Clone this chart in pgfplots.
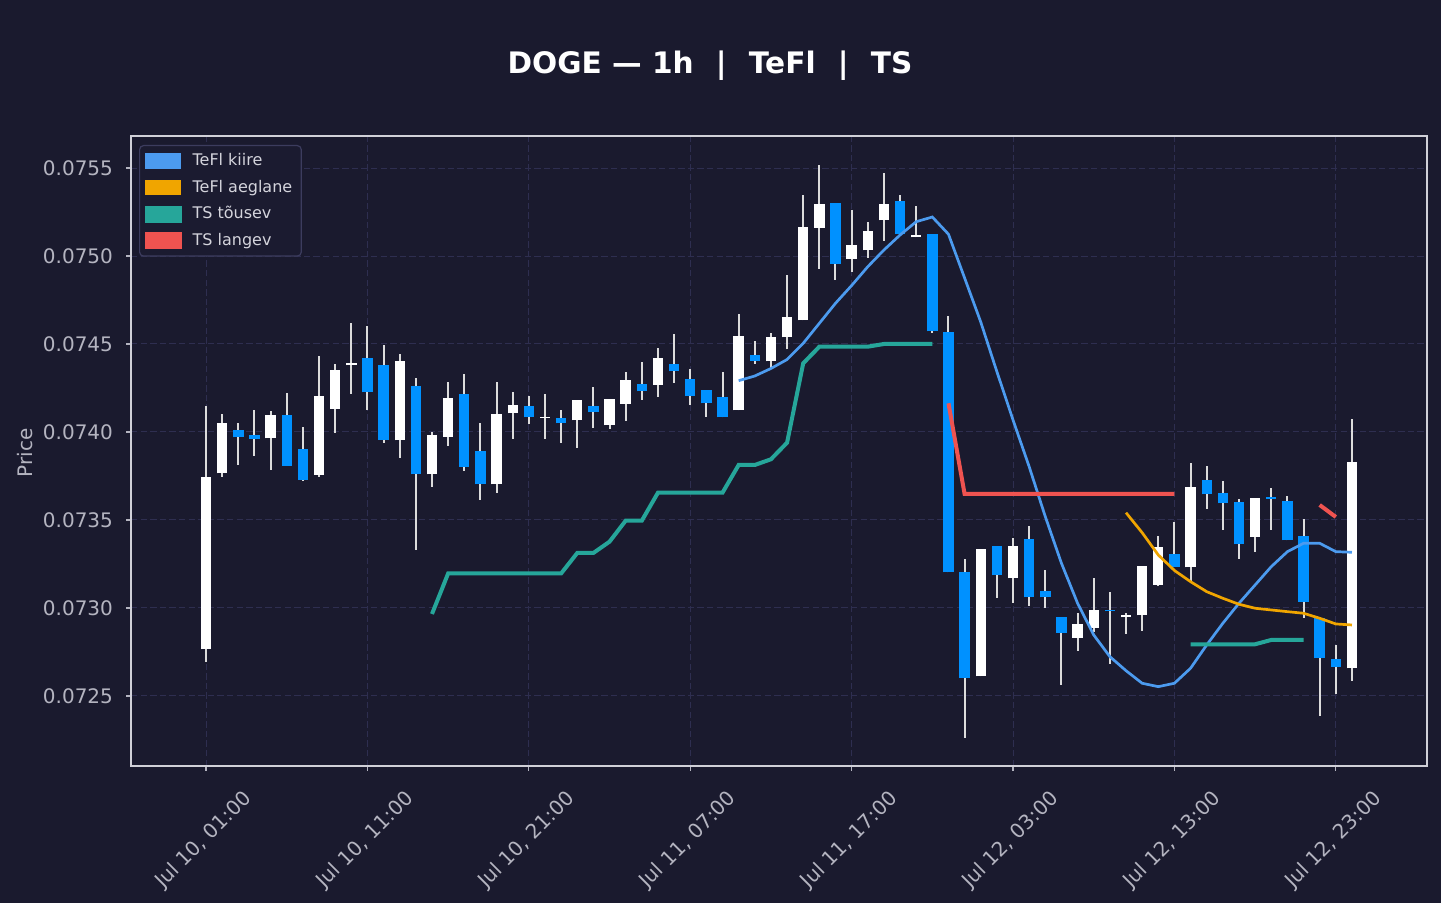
\documentclass[border=0pt]{standalone}
\usepackage{fontspec}
\setmainfont{DejaVu Sans}
\usepackage{pgfplots}
\pgfplotsset{compat=1.18}
\usepackage{pgfplotstable}

\definecolor{bg}{HTML}{1A1A2E}
\definecolor{gridc}{HTML}{2E2E50}
\definecolor{framec}{HTML}{D0D0D8}
\definecolor{tickc}{HTML}{B4B4C0}
\definecolor{upc}{HTML}{FFFFFF}
\definecolor{downc}{HTML}{0091FF}
\definecolor{wickc}{HTML}{DCDCDC}
\definecolor{fastc}{HTML}{4C9BEF}
\definecolor{slowc}{HTML}{F0A500}
\definecolor{tsup}{HTML}{26A69A}
\definecolor{tsdn}{HTML}{EF5350}
\definecolor{legbg}{HTML}{1B1B30}
\definecolor{legdraw}{HTML}{3C3C5E}
\definecolor{legtext}{HTML}{D4D4DC}

\pgfplotstableread{
i o h l c
0 0.0727653 0.0741477 0.0726949 0.0737426
1 0.0737653 0.0741023 0.0737460 0.0740494
4 0.0739642 0.0741193 0.0737841 0.0740949
7 0.0737574 0.0744318 0.0737460 0.0742028
8 0.0741324 0.0743864 0.0739961 0.0743506
9 0.0743790 0.0746193 0.0742176 0.0743903
12 0.0739528 0.0744432 0.0738540 0.0744017
14 0.0737597 0.0739983 0.0736892 0.0739813
15 0.0739733 0.0742841 0.0739205 0.0741915
18 0.0737028 0.0742841 0.0736551 0.0741006
19 0.0741063 0.0742273 0.0739619 0.0741517
21 0.0740824 0.0742159 0.0739619 0.0740864
23 0.0740665 0.0741818 0.0739108 0.0741801
25 0.0740381 0.0741875 0.0740188 0.0741858
26 0.0741608 0.0743409 0.0740642 0.0742937
28 0.0742687 0.0744773 0.0741989 0.0744187
33 0.0741233 0.0746705 0.0741228 0.0745438
35 0.0744017 0.0745625 0.0743563 0.0745381
36 0.0745381 0.0748920 0.0744699 0.0746517
37 0.0746347 0.0753466 0.0746340 0.0751631
38 0.0751608 0.0755170 0.0749278 0.0752937
40 0.0749847 0.0752614 0.0749108 0.0750608
41 0.0750324 0.0751932 0.0749903 0.0751403
42 0.0752028 0.0754716 0.0750869 0.0752937
44 0.0751062 0.0752841 0.0751057 0.0751210
48 0.0726119 0.0733340 0.0726110 0.0733335
50 0.0731688 0.0733977 0.0730284 0.0733506
54 0.0728313 0.0729716 0.0727574 0.0729074
55 0.0728846 0.0731705 0.0728653 0.0729869
57 0.0729472 0.0729699 0.0728540 0.0729585
58 0.0729585 0.0732386 0.0728710 0.0732369
59 0.0731324 0.0734091 0.0731250 0.0733449
61 0.0732312 0.0738239 0.0731494 0.0736858
65 0.0734051 0.0736250 0.0733199 0.0736233
71 0.0726574 0.0740739 0.0725869 0.0738279
}\upcandles

\pgfplotstableread{
i o h l c
2 0.0740097 0.0740511 0.0738125 0.0739699
3 0.0739813 0.0741250 0.0738653 0.0739619
5 0.0740949 0.0742216 0.0738080 0.0738085
6 0.0739017 0.0740284 0.0737233 0.0737290
10 0.0744187 0.0746023 0.0741250 0.0742256
11 0.0743808 0.0744943 0.0739392 0.0739563
13 0.0742597 0.0743068 0.0733296 0.0737597
16 0.0742142 0.0743295 0.0737801 0.0738028
17 0.0738903 0.0740511 0.0736153 0.0737028
20 0.0741460 0.0742045 0.0740472 0.0740835
22 0.0740778 0.0741250 0.0739392 0.0740494
24 0.0741460 0.0742540 0.0740244 0.0741119
27 0.0742710 0.0743977 0.0741835 0.0742313
29 0.0743847 0.0745568 0.0742801 0.0743449
30 0.0742994 0.0743563 0.0741551 0.0742028
31 0.0742369 0.0742386 0.0740869 0.0741631
32 0.0741972 0.0743409 0.0740830 0.0740835
34 0.0744358 0.0745170 0.0743881 0.0744051
39 0.0752994 0.0753011 0.0748653 0.0749562
43 0.0753108 0.0753466 0.0751228 0.0751233
45 0.0751233 0.0751240 0.0745642 0.0745721
46 0.0745665 0.0746591 0.0732020 0.0732028
47 0.0732063 0.0732784 0.0722631 0.0726006
49 0.0733506 0.0733523 0.0730585 0.0731858
51 0.0733903 0.0734659 0.0730131 0.0730608
52 0.0730949 0.0732159 0.0730017 0.0730608
53 0.0729472 0.0729489 0.0725642 0.0728597
56 0.0729903 0.0730909 0.0726835 0.0729812
60 0.0733051 0.0734886 0.0732305 0.0732312
62 0.0737256 0.0738068 0.0735642 0.0736460
63 0.0736517 0.0737202 0.0734435 0.0735949
64 0.0736006 0.0736176 0.0732801 0.0733619
66 0.0736290 0.0736818 0.0734435 0.0736210
67 0.0736062 0.0736364 0.0733840 0.0733847
68 0.0734108 0.0735057 0.0729449 0.0730358
69 0.0729449 0.0729455 0.0723875 0.0727142
70 0.0727085 0.0727898 0.0725114 0.0726665
}\downcandles

\begin{document}
\begin{tikzpicture}
\fill[bg] (0pt,0pt) rectangle (720.5pt,451.5pt);
\begin{axis}[
  at={(65.5pt,68.5pt)}, anchor=south west,
  scale only axis, width=648pt, height=315pt,
  xmin=-4.65, xmax=75.65, ymin=0.072102, ymax=0.075682,
  axis background/.style={fill=bg},
  axis line style={draw=framec, line width=0.75pt},
  tick pos=left, tick align=outside, major tick length=2.5pt,
  tick style={draw=tickc, line width=0.6pt},
  grid=major,
  major grid style={draw=gridc, line width=0.5pt, dash pattern=on 3.2pt off 1.6pt},
  xtick={0,10,20,30,40,50,60,70},
  xticklabels={{Jul 10, 01:00},{Jul 10, 11:00},{Jul 10, 21:00},{Jul 11, 07:00},{Jul 11, 17:00},{Jul 12, 03:00},{Jul 12, 13:00},{Jul 12, 23:00}},
  xticklabel style={yshift=-34.5pt, xshift=-1pt, rotate=45, anchor=center, font=\fontsize{10}{12}\selectfont, text=tickc},
  ytick={0.0725,0.0730,0.0735,0.0740,0.0745,0.0750,0.0755},
  scaled y ticks=false,
  yticklabel style={font=\fontsize{10}{12}\selectfont, text=tickc, xshift=-3pt,
    /pgf/number format/.cd, fixed, fixed zerofill, precision=4, assume math mode=true},
  ylabel={Price},
  ylabel style={at={(axis description cs:-0.0818,0.497)}, anchor=center, font=\fontsize{10}{12}\selectfont, text=tickc},
  legend style={at={(0,1)}, anchor=north west, xshift=4pt, yshift=-4.5pt,
    fill=legbg, draw=legdraw, line width=0.6pt, rounded corners=2pt,
    font=\fontsize{8}{9.6}\selectfont, text=legtext,
    inner xsep=2.5pt, inner ysep=2pt, row sep=1.6pt, column sep=3.5pt},
  legend cell align=left,
]
% wicks
\addplot[forget plot, draw=none, no markers,
  error bars/.cd, y dir=plus, y explicit, error mark=none,
  error bar style={line width=1pt, draw=wickc}]
  table[x=i, y=l, y error plus expr=\thisrow{h}-\thisrow{l}] {\upcandles};
\addplot[forget plot, draw=none, no markers,
  error bars/.cd, y dir=plus, y explicit, error mark=none,
  error bar style={line width=1pt, draw=wickc}]
  table[x=i, y=l, y error plus expr=\thisrow{h}-\thisrow{l}] {\downcandles};
% bodies
\addplot[forget plot, draw=none, no markers,
  error bars/.cd, y dir=plus, y explicit, error mark=none,
  error bar style={line width=5.2pt, draw=upc}]
  table[x=i, y=o, y error plus expr=\thisrow{c}-\thisrow{o}] {\upcandles};
\addplot[forget plot, draw=none, no markers,
  error bars/.cd, y dir=plus, y explicit, error mark=none,
  error bar style={line width=5.2pt, draw=downc}]
  table[x=i, y=c, y error plus expr=\thisrow{o}-\thisrow{c}] {\downcandles};

% TeFl kiire
\addplot[fastc, line width=1.35pt, mark=none,
  legend image code/.code={\fill[fastc, sharp corners] (0pt,-3.25pt) rectangle (16.5pt,3.25pt);}]
  coordinates {
  (33,0.0742915) (34,0.0743182) (35,0.0743608) (36,0.0744119) (37,0.0745040)
  (38,0.0746176) (39,0.0747313) (40,0.0748324) (41,0.0749392) (42,0.0750341)
  (43,0.0751193) (44,0.0751949) (45,0.0752216) (46,0.0751239) (47,0.0748750)
  (48,0.0746250) (49,0.0743426) (50,0.0740682) (51,0.0738028) (52,0.0735188)
  (53,0.0732540) (54,0.0730267) (55,0.0728466) (56,0.0727233) (57,0.0726437)
  (58,0.0725721) (59,0.0725528) (60,0.0725721) (61,0.0726574) (62,0.0727898)
  (63,0.0729130) (64,0.0730267) (65,0.0731307) (66,0.0732347) (67,0.0733199)
  (68,0.0733676) (69,0.0733676) (70,0.0733199) (71,0.0733165)
  };
\addlegendentry{TeFl kiire}
% TeFl aeglane
\addplot[slowc, line width=1.35pt, mark=none,
  legend image code/.code={\fill[slowc, sharp corners] (0pt,-3.25pt) rectangle (16.5pt,3.25pt);}]
  coordinates {
  (57,0.0735415) (58,0.0734279) (59,0.0733011) (60,0.0732131) (61,0.0731494)
  (62,0.0730926) (63,0.0730551) (64,0.0730210) (65,0.0729983) (66,0.0729886)
  (67,0.0729790) (68,0.0729699) (69,0.0729415) (70,0.0729091) (71,0.0729034)
  };
\addlegendentry{TeFl aeglane}
% TS tousev
\addplot[tsup, line width=2pt, mark=none, unbounded coords=jump,
  legend image code/.code={\fill[tsup, sharp corners] (0pt,-3.25pt) rectangle (16.5pt,3.25pt);}]
  coordinates {
  (14,0.0729659) (15,0.0731960) (16,0.0731960) (17,0.0731960) (18,0.0731960)
  (19,0.0731960) (20,0.0731960) (21,0.0731960) (22,0.0731960) (23,0.0733125)
  (24,0.0733125) (25,0.0733767) (26,0.0734960) (27,0.0734960) (28,0.0736551)
  (29,0.0736551) (30,0.0736551) (31,0.0736551) (32,0.0736551) (33,0.0738125)
  (34,0.0738125) (35,0.0738449) (36,0.0739392) (37,0.0743903) (38,0.0744847)
  (39,0.0744847) (40,0.0744847) (41,0.0744847) (42,0.0745000) (43,0.0745000)
  (44,0.0745000) (45,0.0745000) (46,nan)
  (61,0.0727938) (62,0.0727938) (63,0.0727938) (64,0.0727938) (65,0.0727938)
  (66,0.0728182) (67,0.0728182) (68,0.0728182)
  };
\addlegendentry{TS tõusev}
% TS langev
\addplot[tsdn, line width=2pt, mark=none, unbounded coords=jump,
  legend image code/.code={\fill[tsdn, sharp corners] (0pt,-3.25pt) rectangle (16.5pt,3.25pt);}]
  coordinates {
  (46,0.0741631) (47,0.0736477) (48,0.0736477) (49,0.0736477) (50,0.0736477)
  (51,0.0736477) (52,0.0736477) (53,0.0736477) (54,0.0736477) (55,0.0736477)
  (56,0.0736477) (57,0.0736477) (58,0.0736477) (59,0.0736477) (60,0.0736477)
  (61,nan)
  (69,0.0735852) (70,0.0735170)
  };
\addlegendentry{TS langev}
\end{axis}
\node[font=\bfseries\fontsize{14.8}{17.5}\selectfont, text=white] at (355pt,418.5pt)
  {DOGE — 1h\hspace{0.75em}|\hspace{0.75em}TeFl\hspace{0.75em}|\hspace{0.75em}TS};
\end{tikzpicture}
\end{document}
